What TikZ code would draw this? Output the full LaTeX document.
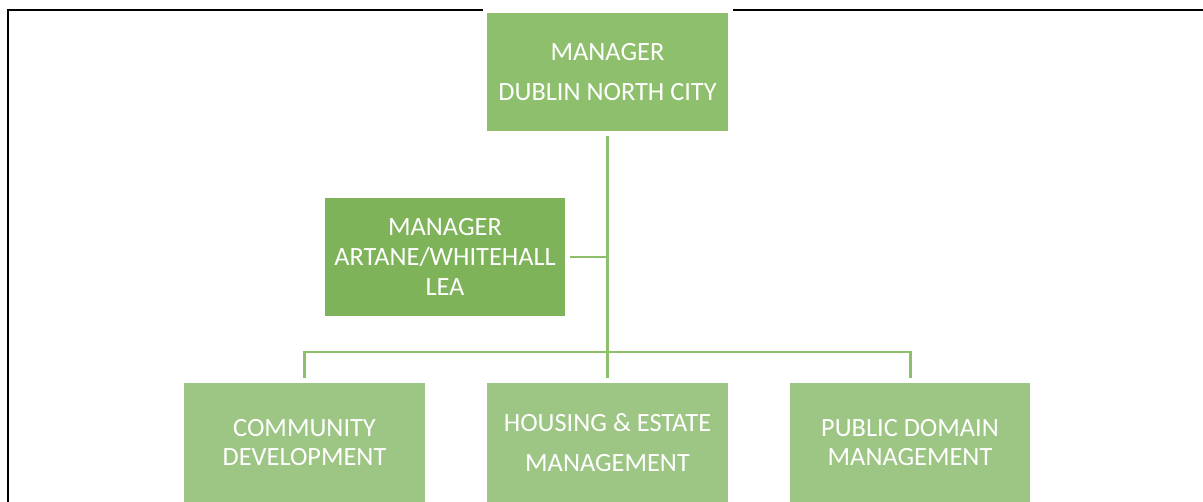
\documentclass[tikz,border=0pt]{standalone}
\usepackage{fontspec}
\setmainfont{Carlito}
\usepackage{xcolor}
\definecolor{topGreen}{HTML}{8EBF6C}
\definecolor{midGreen}{HTML}{7EB35A}
\definecolor{lowGreen}{HTML}{9DC584}
\begin{document}
\begin{tikzpicture}
[x=0.02cm, y=-0.02cm,
 boxDecorate/.style={shape=rectangle, inner sep=0pt, outer sep=0.1cm, minimum width=4.82cm, minimum height=2.37cm, text=white, align=center, font=\fontsize{15}{17}\selectfont},
 topDecorate/.style={boxDecorate, fill=topGreen},
 midDecorate/.style={boxDecorate, fill=midGreen},
 lowDecorate/.style={boxDecorate, fill=lowGreen},
 lineDecorate/.style={draw=topGreen, line width=1.7pt},
 frameDecorate/.style={draw=black, line width=1.3pt}]

 \useasboundingbox (0,0) rectangle (1203,502);

 % frame
 \coordinate (F0) at (483,10);
 \coordinate (F1) at (8,10);
 \coordinate (F2) at (8,502);
 \coordinate (F3) at (733,10);
 \coordinate (F4) at (1203,10);
 \draw[frameDecorate] (F0) -- (F1) -- (F2);
 \draw[frameDecorate] (F3) -- (F4);

 \node (mgr) at (607.5,72) [topDecorate] {MANAGER\\[6pt]DUBLIN NORTH CITY};
 \node (lea) at (445,257) [midDecorate] {MANAGER\\ARTANE/WHITEHALL\\LEA};

 \node (cmt) at (304.5,442.5) [lowDecorate] {COMMUNITY\\DEVELOPMENT};
 \node (hsg) at (607.5,442.5) [lowDecorate] {HOUSING \& ESTATE\\[6pt]MANAGEMENT};
 \node (pub) at (910,442.5) [lowDecorate] {PUBLIC DOMAIN\\MANAGEMENT};

 \coordinate (bar) at (607.5,352);

 \draw[lineDecorate] (mgr) -- (hsg);
 \draw[lineDecorate] (lea.east) -- (lea.east -| mgr.south);
 \draw[lineDecorate] (cmt.north) |- (bar) -| (pub.north);

\end{tikzpicture}
\end{document}
